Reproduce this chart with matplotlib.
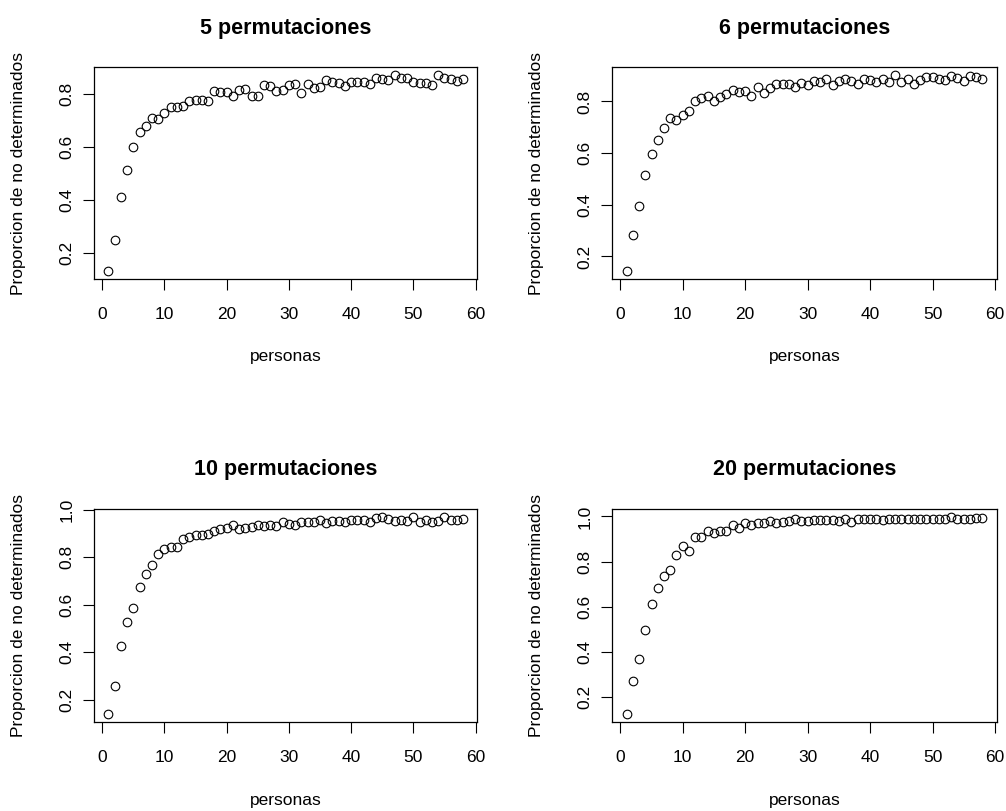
import matplotlib
matplotlib.use("Agg")
import matplotlib.pyplot as plt
import numpy as np

plt.rcParams['font.family'] = ['Liberation Sans', 'DejaVu Sans']

personas = list(range(1, 59))

p5 = [0.130, 0.248, 0.412, 0.514, 0.601, 0.655, 0.679, 0.707, 0.703, 0.726,
      0.751, 0.749, 0.753, 0.771, 0.776, 0.777, 0.772, 0.812, 0.805, 0.808,
      0.791, 0.813, 0.817, 0.790, 0.791, 0.834, 0.830, 0.812, 0.815, 0.834,
      0.838, 0.802, 0.838, 0.820, 0.825, 0.850, 0.845, 0.841, 0.829, 0.845,
      0.844, 0.845, 0.837, 0.858, 0.857, 0.853, 0.869, 0.858, 0.858, 0.845,
      0.841, 0.839, 0.834, 0.870, 0.859, 0.854, 0.849, 0.854]

p6 = [0.142, 0.284, 0.394, 0.514, 0.597, 0.650, 0.698, 0.738, 0.728, 0.748,
      0.765, 0.801, 0.814, 0.821, 0.800, 0.819, 0.828, 0.846, 0.836, 0.839,
      0.823, 0.857, 0.832, 0.852, 0.868, 0.868, 0.867, 0.858, 0.870, 0.863,
      0.879, 0.874, 0.888, 0.863, 0.881, 0.888, 0.880, 0.867, 0.886, 0.884,
      0.877, 0.889, 0.874, 0.902, 0.877, 0.889, 0.867, 0.884, 0.893, 0.895,
      0.886, 0.883, 0.898, 0.892, 0.879, 0.899, 0.895, 0.886]

p10 = [0.140, 0.256, 0.426, 0.527, 0.586, 0.673, 0.731, 0.768, 0.815, 0.834,
       0.843, 0.844, 0.878, 0.884, 0.893, 0.895, 0.900, 0.912, 0.919, 0.923,
       0.934, 0.921, 0.923, 0.926, 0.934, 0.930, 0.935, 0.930, 0.948, 0.941,
       0.935, 0.947, 0.949, 0.949, 0.955, 0.945, 0.951, 0.951, 0.949, 0.958,
       0.959, 0.959, 0.949, 0.965, 0.969, 0.962, 0.952, 0.959, 0.951, 0.968,
       0.949, 0.958, 0.949, 0.954, 0.968, 0.955, 0.957, 0.962]

p20 = [0.124, 0.268, 0.367, 0.496, 0.612, 0.683, 0.736, 0.764, 0.827, 0.867,
       0.846, 0.907, 0.908, 0.936, 0.927, 0.935, 0.936, 0.964, 0.950, 0.973,
       0.964, 0.970, 0.972, 0.979, 0.973, 0.976, 0.982, 0.991, 0.979, 0.982,
       0.984, 0.984, 0.984, 0.984, 0.979, 0.991, 0.975, 0.988, 0.988, 0.988,
       0.988, 0.985, 0.988, 0.988, 0.991, 0.990, 0.990, 0.988, 0.990, 0.990,
       0.991, 0.991, 0.997, 0.991, 0.991, 0.991, 0.993, 0.994]

titles = ["5 permutaciones", "6 permutaciones", "10 permutaciones", "20 permutaciones"]
series = [p5, p6, p10, p20]
xticks = [0, 10, 20, 30, 40, 50, 60]
yticks_top = [0.2, 0.4, 0.6, 0.8]
yticks_bottom = [0.2, 0.4, 0.6, 0.8, 1.0]
yticks_list = [yticks_top, yticks_top, yticks_bottom, yticks_bottom]
xlabel = "personas"
ylabel = "Proporcion de no determinados"

W, H = 1006, 811
fig = plt.figure(figsize=(W / 100, H / 100), dpi=100)

# pixel boxes: left, top, right, bottom
boxes = [(94.3, 67.3, 477.3, 279.3),
         (612.3, 67.3, 996.7, 279.3),
         (94.3, 509.3, 477.3, 721.7),
         (612.3, 509.3, 996.7, 721.7)]
title_y_px = [28, 28, 470, 470]
xlabel_y_px = [357, 357, 800, 800]
ylabel_x_px = [18, 536, 18, 536]


def rlim(v):
    lo, hi = min(v), max(v)
    d = (hi - lo) * 0.04
    return lo - d, hi + d


for k in range(4):
    l, t, r, b = boxes[k]
    ax = fig.add_axes([l / W, 1 - b / H, (r - l) / W, (b - t) / H])
    ax.plot(personas, series[k], linestyle='none', marker='o', ms=6.2,
            mfc='none', mec='black', mew=0.8)
    ax.set_xlim(*rlim(personas))
    ax.set_ylim(*rlim(series[k]))
    ax.set_xticks(xticks)
    ax.set_yticks(yticks_list[k])
    ax.set_xticklabels([str(x) for x in xticks])
    ax.set_yticklabels([f"{y:.1f}" for y in yticks_list[k]])
    ax.tick_params(axis='both', direction='out', length=7.6, width=0.8,
                   labelsize=12.5, colors='black')
    ax.tick_params(axis='x', pad=12.5)
    ax.tick_params(axis='y', pad=6.5)
    for lab in ax.get_yticklabels():
        lab.set_rotation(90)
        lab.set_va('center')
    for s in ax.spines.values():
        s.set_linewidth(0.9)
        s.set_color('black')
    hpx = b - t
    wpx = r - l
    ax.set_title(titles[k], fontsize=15.5, fontweight='bold', pad=0,
                 y=1 + (t - title_y_px[k]) / hpx, va='center')
    ax.set_xlabel(xlabel, fontsize=12.5)
    ax.xaxis.set_label_coords(0.5, (b - xlabel_y_px[k]) / hpx)
    ax.xaxis.label.set_va('center')
    ax.set_ylabel(ylabel, fontsize=12.5)
    ax.yaxis.set_label_coords((ylabel_x_px[k] - l) / wpx, 0.5)
    ax.yaxis.label.set_va('center')

fig.savefig("out.png", dpi=100)
